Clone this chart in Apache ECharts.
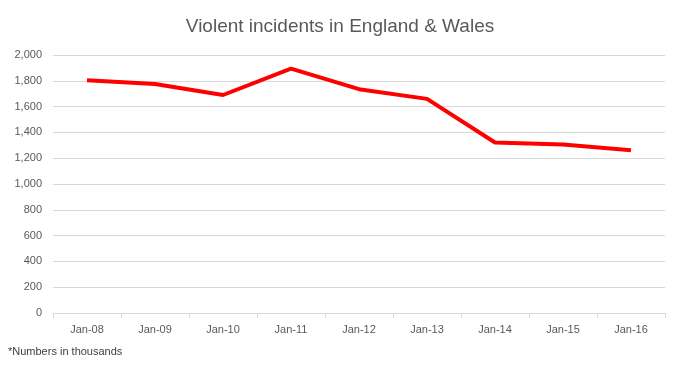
<!DOCTYPE html>
<html><head><meta charset="utf-8">
<script src="https://cdn.jsdelivr.net/npm/echarts@6/dist/echarts.min.js"></script>
<style>html,body{margin:0;padding:0;background:#fff}#c{width:680px;height:369px}</style>
</head><body><div id="c"></div>
<script>
const categories = ["Jan-08","Jan-09","Jan-10","Jan-11","Jan-12","Jan-13","Jan-14","Jan-15","Jan-16"];
const incidents = [1805, 1775, 1690, 1895, 1735, 1660, 1322, 1306, 1262];
const chart = echarts.init(document.getElementById('c'));
const font = "'Liberation Sans', Arial, sans-serif";
chart.setOption({
  animation: false,
  title: {
    text: 'Violent incidents in England & Wales',
    left: 'center', top: 12,
    textStyle: {fontFamily: font, fontSize: 19, fontWeight: 'normal', color: '#595959'}
  },
  graphic: [{
    type: 'text', left: 8, top: 346,
    style: {text: '*Numbers in thousands', font: "11px 'Liberation Sans', Arial, sans-serif", fill: '#404040'}
  }],
  grid: {left: 53, right: 15, top: 55, bottom: 56},
  xAxis: {
    type: 'category', data: categories, boundaryGap: true,
    axisLine: {lineStyle: {color: '#d9d9d9'}},
    axisTick: {show: true, length: 5, lineStyle: {color: '#d9d9d9'}},
    axisLabel: {fontFamily: font, fontSize: 11, color: '#595959', margin: 11}
  },
  yAxis: {
    type: 'value', min: 0, max: 2000, interval: 200,
    axisLine: {show: false}, axisTick: {show: false},
    splitLine: {lineStyle: {color: '#d9d9d9'}},
    axisLabel: {fontFamily: font, fontSize: 11, color: '#595959', margin: 11,
      formatter: v => v.toLocaleString('en-US')}
  },
  series: [{
    type: 'line', data: incidents, symbol: 'none',
    lineStyle: {color: '#ff0000', width: 4}
  }]
});
</script></body></html>
